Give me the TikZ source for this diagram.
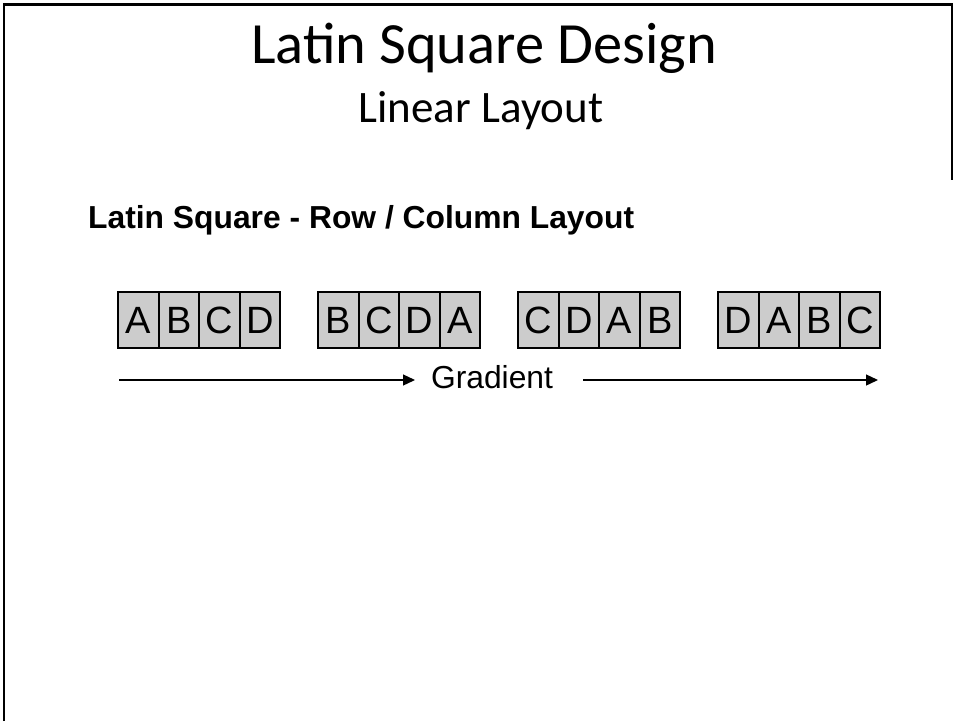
\documentclass[tikz,border=0pt]{standalone}
\usepackage{fontspec}
\setmainfont{Liberation Sans}
\newfontfamily\calfont{Carlito}
\usetikzlibrary{arrows.meta}
\tikzset{
  cell/.style={draw=black, line width=2pt, fill=black!20, minimum width=40.5pt, minimum height=56pt,
    inner sep=0pt, text height=27pt, text depth=0pt, font=\fontsize{38}{40}\selectfont},
  frameline/.style={line width=2.2pt},
  gradarrow/.style={line width=1.3pt, -{Triangle[length=12pt,width=11pt]}}
}
\begin{document}
\begin{tikzpicture}[x=1pt,y=-1pt]
\useasboundingbox (0,0) rectangle (956,721);
\draw[frameline] (4,721) -- (4,4.5) -- (952,4.5) -- (952,180);
\node[anchor=base, inner sep=0pt, font=\calfont\fontsize{58.4}{60}\selectfont] (title) at (484,63) {Latin Square Design};
\node[anchor=base, inner sep=0pt, font=\calfont\fontsize{45}{48}\selectfont] (subtitle) at (481,122) {Linear Layout};
\node[anchor=base west, inner sep=0pt, font=\bfseries\fontsize{31.8}{34}\selectfont] (heading) at (88,228) {Latin Square - Row / Column Layout};
\foreach \g/\letters [count=\gi] in {117.3/{A,B,C,D}, 317.3/{B,C,D,A}, 517.3/{C,D,A,B}, 717.3/{D,A,B,C}} {
  \foreach \l [count=\ci] in \letters {
    \node[cell, anchor=north west] (g\gi c\ci) at ({\g+(\ci-1)*40.5},291) {\l};
  }
}
\node[anchor=base, inner sep=0pt, font=\fontsize{31.8}{34}\selectfont] (grad) at (492,388) {Gradient};
\coordinate (a1s) at (119,380);
\coordinate (a1e) at (415,380);
\coordinate (a2s) at (583,380);
\coordinate (a2e) at (878,380);
\draw[gradarrow] (a1s) -- (a1e);
\draw[gradarrow] (a2s) -- (a2e);
\end{tikzpicture}
\end{document}
